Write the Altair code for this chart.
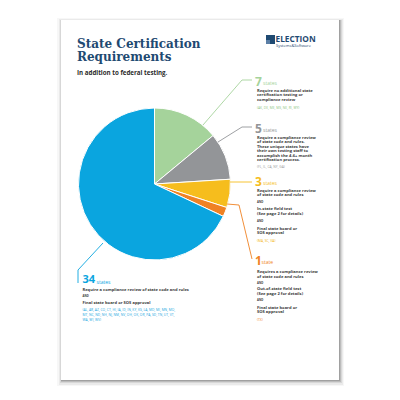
import altair as alt
import pandas as pd

# ---------------- data ----------------
categories = [
    "No additional testing",
    "Compliance review + own testing staff",
    "Compliance review + in-state field test + final approval",
    "Compliance review + out-of-state field test + final approval",
    "Compliance review + final approval",
]
counts = [7, 5, 3, 1, 34]
count_units = ["states", "states", "states", "state", "states"]
slice_colors = ["#a5d39b", "#939598", "#f6bd1d", "#ef8224", "#0aa5df"]
list_colors = ["#8cc67f", "#9a9a9a", "#f2b30f", "#ef8224", "#1aa6e0"]
descriptions = [
    ["Require no additional state", "certification testing or", "compliance review"],
    ["Require a compliance review", "of state code and rules.", "These unique states have",
     "their own testing staff to", "accomplish the 4-6+ month", "certification process."],
    ["Require a compliance review", "of state code and rules", "AND", "In-state field test",
     "(See page 2 for details)", "AND", "Final state board or", "SOS approval"],
    ["Requires a compliance review", "of state code and rules", "AND", "Out-of-state field test",
     "(See page 2 for details)", "AND", "Final state board or", "SOS approval"],
    ["Require a compliance review of state code and rules", "AND", "Final state board or SOS approval"],
]
state_lists = [
    ["(AK, DE, ME, MS, NE, RI, WY)"],
    ["(FL, IL, CA, NY, GA)"],
    ["(MA, SC, VA)"],
    ["(TX)"],
    ["(AL, AR, AZ, CO, CT, HI, IA, ID, IN, KY, KS, LA, MD, MI, MN, MO,",
     "MT, NC, ND, NH, NJ, NM, NV, OH, OK, OR, PA, SD, TN, UT, VT,",
     "WA, WI, WV)"],
]
title_lines = ["State Certification", "Requirements"]
subtitle = "In addition to federal testing."
logo_word = "ELECTION"
logo_sub = "Systems&Software"

# ---------------- layout (page pixel coordinates) ----------------
M = 8  # page margin of the html body
xs = alt.Scale(domain=[M, 400 - M], range=[0, 384])
ys = alt.Scale(domain=[M, 400 - M], range=[0, 384])
PIE_CX, PIE_CY, PIE_R = 154.5, 184, 76

block_x = [255, 255, 255, 255, 82.5]
num_y = [81.5, 128.5, 181.5, 260.5, 280]
num_size = [12, 12, 12, 12, 11]
num_w = [7, 7, 7, 5.5, 13]
desc_y = [
    [90.8, 95.2, 99.6],
    [137.5, 142, 146.5, 151, 155.5, 160],
    [190.5, 195, 202, 209, 213.5, 221, 228.5, 233],
    [271.5, 276.5, 283, 289, 293.5, 300, 307.5, 312],
    [290, 296, 302.5],
]
list_y = [[107.5], [167], [240.5], [320], [310, 315, 320]]
body_x_off = [2, 2, 2, 2, 0]

leaders = [
    [(203, 125), (242, 80), (252, 80)],
    [(218, 142), (242, 127), (252, 127)],
    [(230, 182), (252, 182)],
    [(227, 204), (239, 205), (252, 259)],
    [(103, 243), (78, 270), (78, 283)],
]


def X():
    return alt.X("x:Q", scale=xs, axis=None)


def Y():
    return alt.Y("y:Q", scale=ys, axis=None)


def rect(x1, y1, x2, y2, color, opacity=1.0):
    return alt.Chart(pd.DataFrame({"x": [x1], "y": [y1], "x2": [x2], "y2": [y2]})).mark_rect(
        color=color, opacity=opacity
    ).encode(x=X(), y=Y(), x2="x2:Q", y2="y2:Q")


# page with soft shadow
layers = [
    rect(57, 18, 344, 386, "#000000", 0.03),
    rect(59, 19, 343, 385, "#000000", 0.05),
    rect(60, 20, 342, 383, "#000000", 0.08),
    rect(61, 20, 341, 382, "#000000", 0.12),
    rect(61, 20, 340, 381, "#000000", 0.15),
    rect(61, 20, 339, 380, "#ffffff"),
]

# pie
pie_df = pd.DataFrame({
    "category": categories, "count": counts, "order": list(range(len(counts))),
    "color": slice_colors,
})
pie = alt.Chart(pie_df).mark_arc(outerRadius=PIE_R, stroke="white", strokeWidth=1).encode(
    theta=alt.Theta("count:Q", stack=True),
    order=alt.Order("order:Q"),
    color=alt.Color("color:N", scale=None),
    x=alt.value(PIE_CX - M), y=alt.value(PIE_CY - M),
)
layers.append(pie)

# leader lines
lrows = []
for i, pts in enumerate(leaders):
    for j, (px, py) in enumerate(pts):
        lrows.append({"x": px, "y": py, "g": i, "k": j, "color": slice_colors[i]})
lead = alt.Chart(pd.DataFrame(lrows)).mark_line(strokeWidth=0.9).encode(
    x=X(), y=Y(), detail="g:N", order="k:Q", color=alt.Color("color:N", scale=None)
)
layers.append(lead)

# text rows
rows = []
for i in range(len(counts)):
    rows.append({"x": block_x[i], "y": num_y[i], "t": str(counts[i]), "c": slice_colors[i], "s": "num"})
    rows.append({"x": block_x[i] + num_w[i] + 1, "y": num_y[i] + 1.8, "t": count_units[i], "c": slice_colors[i], "s": "unit"})
    for line, yy in zip(descriptions[i], desc_y[i]):
        rows.append({"x": block_x[i] + body_x_off[i], "y": yy, "t": line, "c": "#3b3b3b",
                     "s": "and" if line == "AND" else "body"})
    for line, yy in zip(state_lists[i], list_y[i]):
        rows.append({"x": block_x[i] + body_x_off[i], "y": yy, "t": line, "c": list_colors[i], "s": "list"})
tdf = pd.DataFrame(rows)

styles = {
    "num": dict(fontSize=12, fontWeight="bold", font="Open Sans"),
    "unit": dict(fontSize=5, fontWeight="normal", font="Open Sans"),
    "body": dict(fontSize=4.1, fontWeight="bold", font="Open Sans"),
    "and": dict(fontSize=2.8, fontWeight="bold", font="Open Sans"),
    "list": dict(fontSize=3.3, fontWeight="normal", font="Open Sans"),
}
for s, kw in styles.items():
    sub = tdf[tdf["s"] == s]
    if s == "num":
        for size in sorted(set(num_size)):
            idx = [str(counts[i]) for i in range(len(counts)) if num_size[i] == size]
            sub2 = sub[sub["t"].isin(idx)]
            k2 = dict(kw)
            k2["fontSize"] = size
            layers.append(alt.Chart(sub2).mark_text(align="left", baseline="middle", **k2).encode(
                x=X(), y=Y(), text="t:N", color=alt.Color("c:N", scale=None)))
        continue
    layers.append(alt.Chart(sub).mark_text(align="left", baseline="middle", **kw).encode(
        x=X(), y=Y(), text="t:N", color=alt.Color("c:N", scale=None)))

# title / subtitle / logo
head = pd.DataFrame({
    "x": [77, 77], "y": [47.5, 60.5], "t": title_lines,
})
layers.append(alt.Chart(head).mark_text(align="left", baseline="alphabetic", font="DejaVu Serif",
                                         fontWeight="bold", fontSize=12, color="#1f4a72").encode(
    x=X(), y=Y(), text="t:N"))
layers.append(alt.Chart(pd.DataFrame({"x": [77], "y": [72.5], "t": [subtitle]})).mark_text(
    align="left", baseline="middle", font="Open Sans", fontWeight="bold", fontSize=6.2, color="#2b2b2b").encode(
    x=X(), y=Y(), text="t:N"))
layers.append(rect(266, 35, 275, 44, "#1f4a72"))
layers.append(rect(266, 40, 270, 44, "#5b7fa6"))
layers.append(alt.Chart(pd.DataFrame({"x": [275.5], "y": [41.8], "t": [logo_word]})).mark_text(
    align="left", baseline="alphabetic", font="Open Sans", fontWeight="bold", fontSize=8.3, color="#1f4a72").encode(
    x=X(), y=Y(), text="t:N"))
layers.append(alt.Chart(pd.DataFrame({"x": [276], "y": [45.8], "t": [logo_sub]})).mark_text(
    align="left", baseline="middle", font="Open Sans", fontSize=4.0, color="#1f4a72").encode(
    x=X(), y=Y(), text="t:N"))

chart = alt.layer(*layers).properties(
    width=384, height=384, autosize=alt.AutoSizeParams(type="none"), padding=0,
    background="white",
).configure_view(stroke=None)

chart.save("out.html", embed_options={"renderer": "svg", "actions": False})
